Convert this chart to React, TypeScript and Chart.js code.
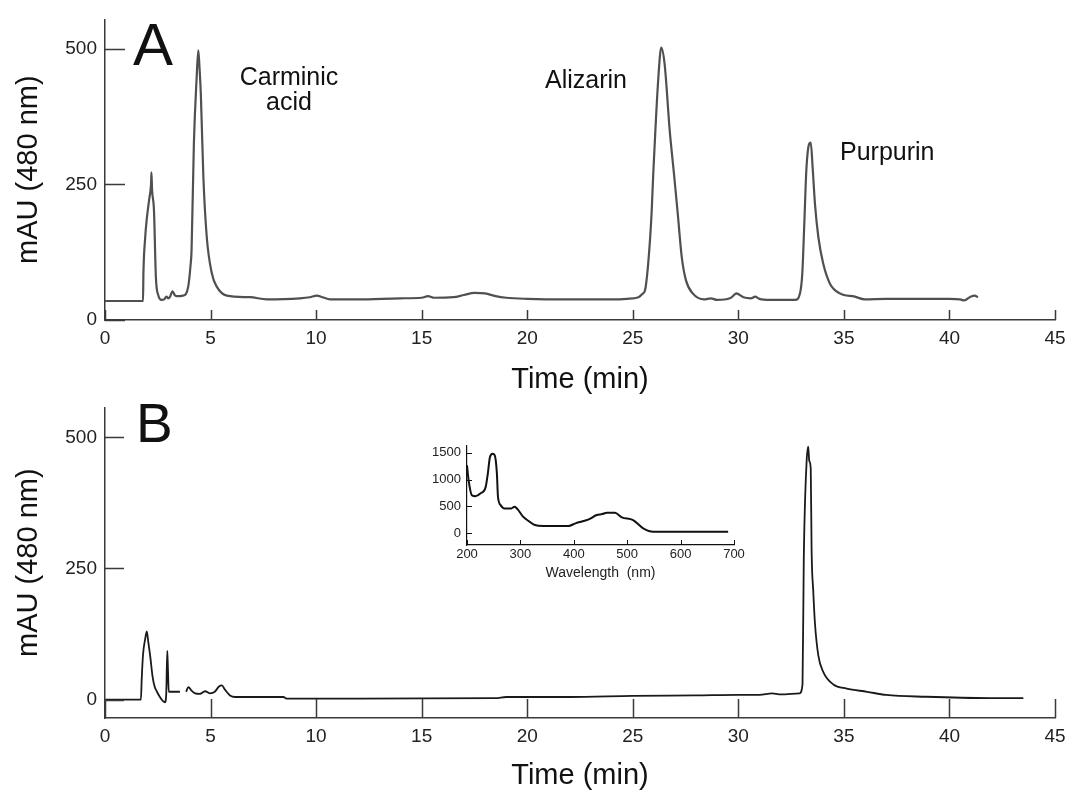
import React, { useEffect, useRef } from "react";
import { Chart, registerables } from "chart.js";

Chart.register(...registerables);

const FONT = "'Liberation Sans', Arial, Helvetica, sans-serif";

// ---------- Panel A: standard mixture chromatogram (480 nm) ----------
const timeA = [
  0, 1.8, 1.82, 1.9, 1.97, 2.1, 2.18, 2.2, 2.23, 2.32, 2.41, 2.52, 2.68, 2.8, 2.91, 3.0, 3.07, 3.2, 3.3, 3.38,
  3.7, 3.94, 4.05, 4.1, 4.21, 4.34, 4.42, 4.47, 4.54, 4.66, 4.82, 5.06, 5.3, 5.77, 6.87, 7.66, 9.24, 9.7, 10.03,
  10.3, 10.66, 12.0, 13.98, 15.0, 15.3, 15.6, 16.5, 17.0, 17.5, 18.0, 18.5, 19.0, 20.0, 22.0, 24.0, 24.72, 25.27,
  25.45, 25.58, 25.73, 25.89, 25.97, 26.07, 26.2, 26.35, 26.51, 26.75, 26.95, 27.13, 27.32, 27.52, 27.84, 28.38,
  28.7, 28.99, 29.6, 29.83, 29.9, 30.24, 30.6, 30.8, 31.0, 31.5, 32.0, 32.69, 32.92, 33.03, 33.13, 33.22, 33.35,
  33.43, 33.52, 33.63, 33.79, 34.02, 34.34, 34.81, 35.52, 35.99, 37.0, 38.5, 40.0, 40.5, 40.7, 41.0, 41.2, 41.35,
];
const signalA = [
  35, 35, 86, 150, 183, 224, 250, 272, 240, 202, 79, 46, 37, 38, 43, 40, 42, 53, 46, 44,
  45, 61, 100, 128, 325, 446, 497, 470, 416, 263, 153, 86, 61, 45, 42, 38, 40, 42, 45,
  42, 38, 38, 40, 41, 44, 41, 42, 46, 50, 49, 44, 41, 39, 38, 38, 39, 42,
  48, 55, 104, 196, 270, 349, 440, 502, 471, 349, 270, 196, 116, 73, 49, 38,
  40, 37, 40, 47, 49, 42, 40, 43, 39, 37, 37, 37, 49, 86, 183, 275, 324,
  327, 281, 214, 153, 104, 67, 49, 43, 38, 39, 39, 39, 38, 36, 43, 45, 42,
];

// ---------- Panel B: sample chromatogram (480 nm) ----------
const timeB = [
  0, 1.7, 1.74, 1.8, 1.9, 1.98, 2.05, 2.15, 2.25, 2.35, 2.45, 2.6, 2.75, 2.84, 2.9, 2.95, 2.98, 3.02, 3.55, 3.7,
  3.84, 3.95, 4.1, 4.27, 4.5, 4.74, 4.98, 5.2, 5.4, 5.53, 5.7, 5.92, 6.16, 8.45, 8.6, 12, 18.5, 19, 22, 25,
  28, 30, 31, 31.6, 32.0, 32.9, 33.04, 33.1, 33.23, 33.31, 33.36, 33.43, 33.47, 33.55, 33.63, 33.79, 34.02, 34.5,
  35.13, 36.1, 37.0, 38.9, 41.9, 43.5,
];
const signalB: (number | null)[] = [
  0, 0, 40, 85, 115, 130, 110, 80, 45, 25, 16, 5, -3, -5, 10, 93, 60, 15, 15, null,
  15, 24, 17, 12, 11, 16, 12, 15, 25, 27, 18, 8, 5, 5, 2, 2, 3, 5, 5, 7,
  8, 9, 9, 12, 10, 12, 29, 267, 450, 482, 455, 440, 286, 206, 145, 84, 53, 29,
  21, 15, 9, 5.5, 3, 3,
];

// ---------- Inset: UV-Vis spectrum ----------
const wavelength = [
  200, 203, 209, 216, 225, 235, 239, 243, 248, 252, 256, 258, 263, 270, 283, 289, 295, 305, 317, 327, 343, 390,
  403, 428, 443, 453, 462, 477, 490, 511, 530, 549, 689,
];
const absorbance = [
  1265, 990, 710, 690, 740, 864, 1111, 1420, 1481, 1450, 1111, 680, 525, 463, 463, 494, 444, 309, 216, 154, 136, 136,
  185, 259, 340, 358, 383, 383, 297, 247, 93, 30, 30,
];

// ---------- Tick labels ----------
const timeTicks = [0, 5, 10, 15, 20, 25, 30, 35, 40, 45];
const mauTicks = [0, 250, 500];
const waveTicks = [200, 300, 400, 500, 600, 700];
const insetTicks = [0, 500, 1000, 1500];

const zip = (xs: number[], ys: (number | null)[]) => xs.map((x, i) => ({ x, y: ys[i] }));
const plain = (v: any) => String(v);

const inwardTicks = {
  id: "inwardTicks",
  afterDatasetsDraw(chart: any, _args: any, opts: any) {
    const { ctx, chartArea, scales } = chart;
    ctx.save();
    ctx.strokeStyle = opts.color;
    ctx.lineWidth = opts.width;
    ctx.beginPath();
    for (const t of scales.x.ticks) {
      const px = Math.round(scales.x.getPixelForValue(t.value)) + 0.5;
      ctx.moveTo(px, chartArea.bottom);
      ctx.lineTo(px, chartArea.bottom - opts.xLen);
    }
    for (const t of scales.y.ticks) {
      const py = Math.round(scales.y.getPixelForValue(t.value)) + 0.5;
      ctx.moveTo(chartArea.left, py);
      ctx.lineTo(chartArea.left + opts.yLen, py);
    }
    ctx.stroke();
    ctx.restore();
  },
};

const textLabels = {
  id: "textLabels",
  afterDraw(chart: any, _args: any, opts: any) {
    const { ctx } = chart;
    ctx.save();
    for (const l of opts.items || []) {
      ctx.font = `${l.size}px ${FONT}`;
      ctx.fillStyle = "#111";
      ctx.textAlign = l.align || "left";
      ctx.textBaseline = "alphabetic";
      ctx.fillText(l.text, l.x, l.y);
    }
    ctx.restore();
  },
};

const AXIS = "#3a3a3a";

function mainConfig(
  data: { x: number; y: number | null }[],
  lineColor: string,
  lineWidth: number,
  yMin: number,
  yMax: number,
  top: number,
  xHeight: number,
  xTitlePad: number,
  xTickLen: number,
  yTickLen: number,
  labels: any[]
): any {
  return {
    type: "line",
    data: {
      datasets: [
        {
          data,
          borderColor: lineColor,
          borderWidth: lineWidth,
          pointRadius: 0,
          fill: false,
          spanGaps: false,
          cubicInterpolationMode: "monotone",
          borderJoinStyle: "round",
        },
      ],
    },
    options: {
      animation: false,
      responsive: false,
      maintainAspectRatio: false,
      events: [],
      layout: { padding: { left: 0, right: 18, top, bottom: 0 } },
      plugins: {
        legend: { display: false },
        tooltip: { enabled: false },
        inwardTicks: { color: AXIS, width: 1.5, xLen: xTickLen, yLen: yTickLen },
        textLabels: { items: labels },
      },
      scales: {
        x: {
          type: "linear",
          min: 0,
          max: 45,
          afterBuildTicks: (s: any) => {
            s.ticks = timeTicks.map((v) => ({ value: v }));
          },
          afterFit: (s: any) => {
            s.height = xHeight;
          },
          grid: { display: false, drawTicks: false },
          border: { display: true, color: AXIS, width: 1.5 },
          ticks: {
            font: { family: FONT, size: 19 },
            color: "#222",
            padding: 7,
            autoSkip: false,
            maxRotation: 0,
            callback: plain,
          },
          title: {
            display: true,
            text: "Time (min)",
            font: { family: FONT, size: 29 },
            color: "#111",
            padding: { top: 0, bottom: xTitlePad },
          },
        },
        y: {
          type: "linear",
          min: yMin,
          max: yMax,
          afterBuildTicks: (s: any) => {
            s.ticks = mauTicks.map((v) => ({ value: v }));
          },
          afterFit: (s: any) => {
            s.width = 105;
          },
          grid: { display: false, drawTicks: false },
          border: { display: true, color: AXIS, width: 1.5 },
          ticks: {
            font: { family: FONT, size: 19 },
            color: "#222",
            padding: 8,
            callback: plain,
          },
          title: {
            display: true,
            text: "mAU (480 nm)",
            font: { family: FONT, size: 29 },
            color: "#111",
            padding: { top: 12, bottom: 0 },
          },
        },
      },
    },
    plugins: [inwardTicks, textLabels],
  };
}

function insetConfig(): any {
  return {
    type: "line",
    data: {
      datasets: [
        {
          data: zip(wavelength, absorbance),
          borderColor: "#111",
          borderWidth: 2,
          pointRadius: 0,
          fill: false,
          cubicInterpolationMode: "monotone",
        },
      ],
    },
    options: {
      animation: false,
      responsive: false,
      maintainAspectRatio: false,
      events: [],
      layout: { padding: { left: 0, right: 16, top: 16, bottom: 0 } },
      plugins: {
        legend: { display: false },
        tooltip: { enabled: false },
        inwardTicks: { color: "#111", width: 1, xLen: 5, yLen: 5 },
      },
      scales: {
        x: {
          type: "linear",
          min: 200,
          max: 700,
          afterBuildTicks: (s: any) => {
            s.ticks = waveTicks.map((v) => ({ value: v }));
          },
          afterFit: (s: any) => {
            s.height = 45;
          },
          grid: { display: false, drawTicks: false },
          border: { display: true, color: "#111", width: 1.2 },
          ticks: {
            font: { family: FONT, size: 13 },
            color: "#222",
            padding: 2,
            autoSkip: false,
            maxRotation: 0,
            callback: plain,
          },
          title: {
            display: true,
            text: "Wavelength  (nm)",
            font: { family: FONT, size: 14 },
            color: "#222",
            padding: { top: 0, bottom: 8.6 },
          },
        },
        y: {
          type: "linear",
          min: -218,
          max: 1625,
          afterBuildTicks: (s: any) => {
            s.ticks = insetTicks.map((v) => ({ value: v }));
          },
          afterFit: (s: any) => {
            s.width = 67;
          },
          grid: { display: false, drawTicks: false },
          border: { display: true, color: "#111", width: 1.2 },
          ticks: { font: { family: FONT, size: 13 }, color: "#222", padding: 6, callback: plain },
        },
      },
    },
    plugins: [inwardTicks],
  };
}

export default function App() {
  const refA = useRef<HTMLCanvasElement>(null);
  const refB = useRef<HTMLCanvasElement>(null);
  const refI = useRef<HTMLCanvasElement>(null);

  useEffect(() => {
    const labelsA = [
      { text: "A", x: 133, y: 65, size: 60 },
      { text: "Carminic", x: 289, y: 85, size: 25, align: "center" },
      { text: "acid", x: 289, y: 110, size: 25, align: "center" },
      { text: "Alizarin", x: 545, y: 88, size: 25 },
      { text: "Purpurin", x: 840, y: 160, size: 25 },
    ];
    const labelsB = [{ text: "B", x: 136, y: 54, size: 55 }];
    const a = new Chart(
      refA.current!,
      mainConfig(zip(timeA, signalA), "#505050", 2.2, 0, 554, 18, 80, 2.6, 10, 20, labelsA)
    );
    const b = new Chart(
      refB.current!,
      mainConfig(zip(timeB, signalB), "#1a1a1a", 1.8, -35, 557, 7, 83, 7.6, 19, 19, labelsB)
    );
    const i = new Chart(refI.current!, insetConfig());
    return () => {
      a.destroy();
      b.destroy();
      i.destroy();
    };
  }, []);

  return (
    <div style={{ position: "absolute", left: 0, top: 0, width: 1073, height: 801, background: "#fff", overflow: "hidden" }}>
      <canvas ref={refA} width={1073} height={400} style={{ position: "absolute", left: 0, top: 0, width: 1073, height: 400 }} />
      <canvas ref={refB} width={1073} height={413} style={{ position: "absolute", left: 0, top: 388, width: 1073, height: 413 }} />
      <canvas ref={refI} width={350} height={160} style={{ position: "absolute", left: 400, top: 430, width: 350, height: 160 }} />
    </div>
  );
}
